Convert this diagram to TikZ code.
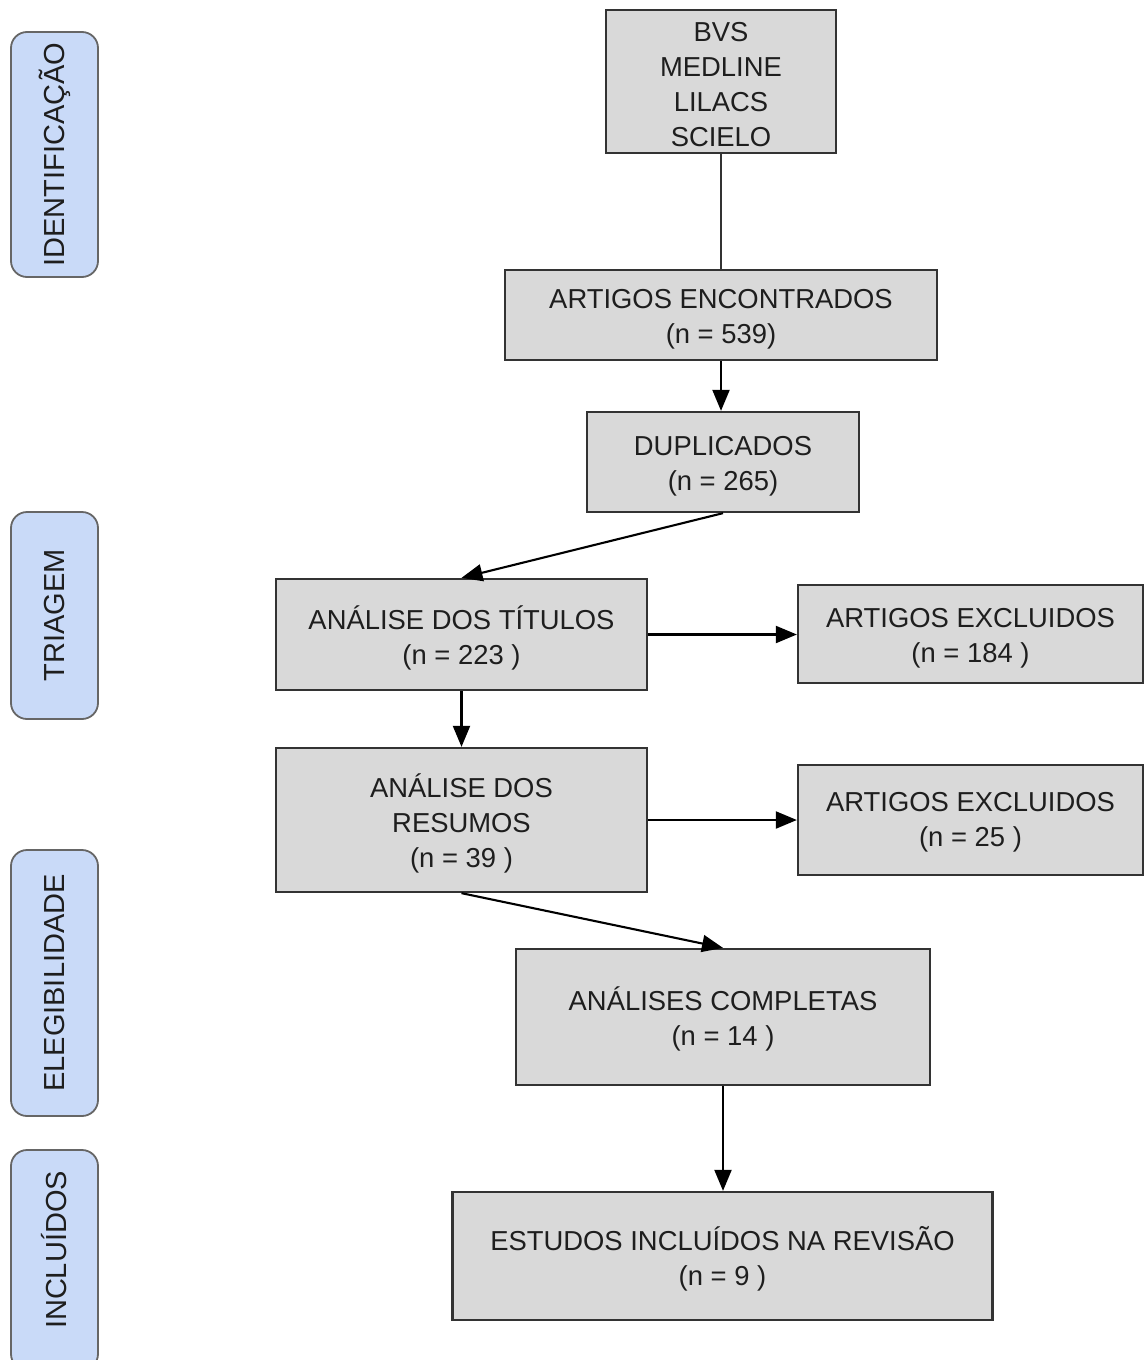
\documentclass[tikz,border=0pt]{standalone}
\usepackage{fontspec}
\setmainfont{Liberation Sans}
\usetikzlibrary{arrows.meta}
\definecolor{boxfill}{HTML}{D9D9D9}
\definecolor{boxline}{HTML}{333333}
\definecolor{sidefill}{HTML}{C9DAF8}
\definecolor{sideline}{HTML}{666666}
\definecolor{txt}{HTML}{1E1E1E}
\begin{document}
\begin{tikzpicture}[x=1pt,y=-1pt,
  mainbox/.style={draw=boxline, fill=boxfill, line width=2.3pt, inner sep=0pt},
  boxtext/.style={inner sep=0pt, align=center, text=txt, font=\fontsize{27.4}{35}\selectfont},
  sidebox/.style={draw=sideline, fill=sidefill, line width=1.8pt, inner sep=0pt,
    rounded corners=16pt},
  sidetext/.style={rotate=90, text=txt, font=\fontsize{29}{35}\selectfont, inner sep=0pt},
  arr/.style={draw=black, line width=2.1pt, -{Triangle[length=21pt,width=17pt]}},
  plain/.style={draw=boxline, line width=2.1pt}]
\clip (0,0) rectangle (1144,1360);
\useasboundingbox (0,0) rectangle (1144,1360);
% side labels
\node[sidebox, minimum width=87pt, minimum height=245pt] (sid) at (54.5,154.5) {};
\node[sidetext] (sidt) at (sid.center) {IDENTIFICAÇÃO};
\node[sidebox, minimum width=87pt, minimum height=207pt] (str) at (54.5,615.5) {};
\node[sidetext] (strt) at (str.center) {TRIAGEM};
\node[sidebox, minimum width=87pt, minimum height=266pt] (sel) at (54.5,983) {};
\node[sidetext] (selt) at (sel.center) {ELEGIBILIDADE};
\node[sidebox, minimum width=87pt, minimum height=220pt] (sin) at (54.5,1260) {};
\node[sidetext] (sint) at (54.5,1250) {INCLUÍDOS};
% main boxes
\node[mainbox, minimum width=230pt, minimum height=143pt] (bvs) at (721,81.5) {};
\node[boxtext] (bvst) at ([yshift=-3pt]bvs.center) {BVS\\MEDLINE\\LILACS\\SCIELO};
\node[mainbox, minimum width=432pt, minimum height=90pt] (enc) at (721,315) {};
\node[boxtext] (enct) at ([yshift=-4pt]enc.center) {ARTIGOS ENCONTRADOS\\(n = 539)};
\node[mainbox, minimum width=272pt, minimum height=100pt] (dup) at (723,462) {};
\node[boxtext] (dupt) at ([yshift=-4pt]dup.center) {DUPLICADOS\\(n = 265)};
\node[mainbox, minimum width=371pt, minimum height=111pt] (tit) at (461.5,634.5) {};
\node[boxtext] (titt) at ([yshift=-3pt]tit.center) {ANÁLISE DOS TÍTULOS\\(n = 223 )};
\node[mainbox, minimum width=345pt, minimum height=98pt] (ex1) at (970.5,634) {};
\node[boxtext] (ex1t) at ([yshift=-4pt]ex1.center) {ARTIGOS EXCLUIDOS\\(n = 184 )};
\node[mainbox, minimum width=371pt, minimum height=144pt] (res) at (461.5,820) {};
\node[boxtext] (rest) at ([yshift=-3pt]res.center) {ANÁLISE DOS\\RESUMOS\\(n = 39 )};
\node[mainbox, minimum width=345pt, minimum height=110pt] (ex2) at (970.5,820) {};
\node[boxtext] (ex2t) at ([yshift=-2pt]ex2.center) {ARTIGOS EXCLUIDOS\\(n = 25 )};
\node[mainbox, minimum width=414pt, minimum height=136pt] (comp) at (723,1017) {};
\node[boxtext] (compt) at ([yshift=-2pt]comp.center) {ANÁLISES COMPLETAS\\(n = 14 )};
\node[mainbox, minimum width=540pt, minimum height=128pt] (est) at (722.5,1256) {};
\node[boxtext] (estt) at ([yshift=-3pt]est.center) {ESTUDOS INCLUÍDOS NA REVISÃO\\(n = 9 )};
% connectors
\draw[plain] (bvs.south) -- (enc.north -| bvs.south);
\draw[arr] (enc.south) -- (enc.south |- dup.north);
\draw[arr] (dup.south) -- (tit.north);
\draw[arr] (tit.east) -- (ex1.west |- tit.east);
\draw[arr] (tit.south) -- (res.north);
\draw[arr] (res.east) -- (ex2.west);
\draw[arr] (res.south) -- (comp.north);
\draw[arr] (comp.south) -- (comp.south |- est.north);
\end{tikzpicture}
\end{document}
